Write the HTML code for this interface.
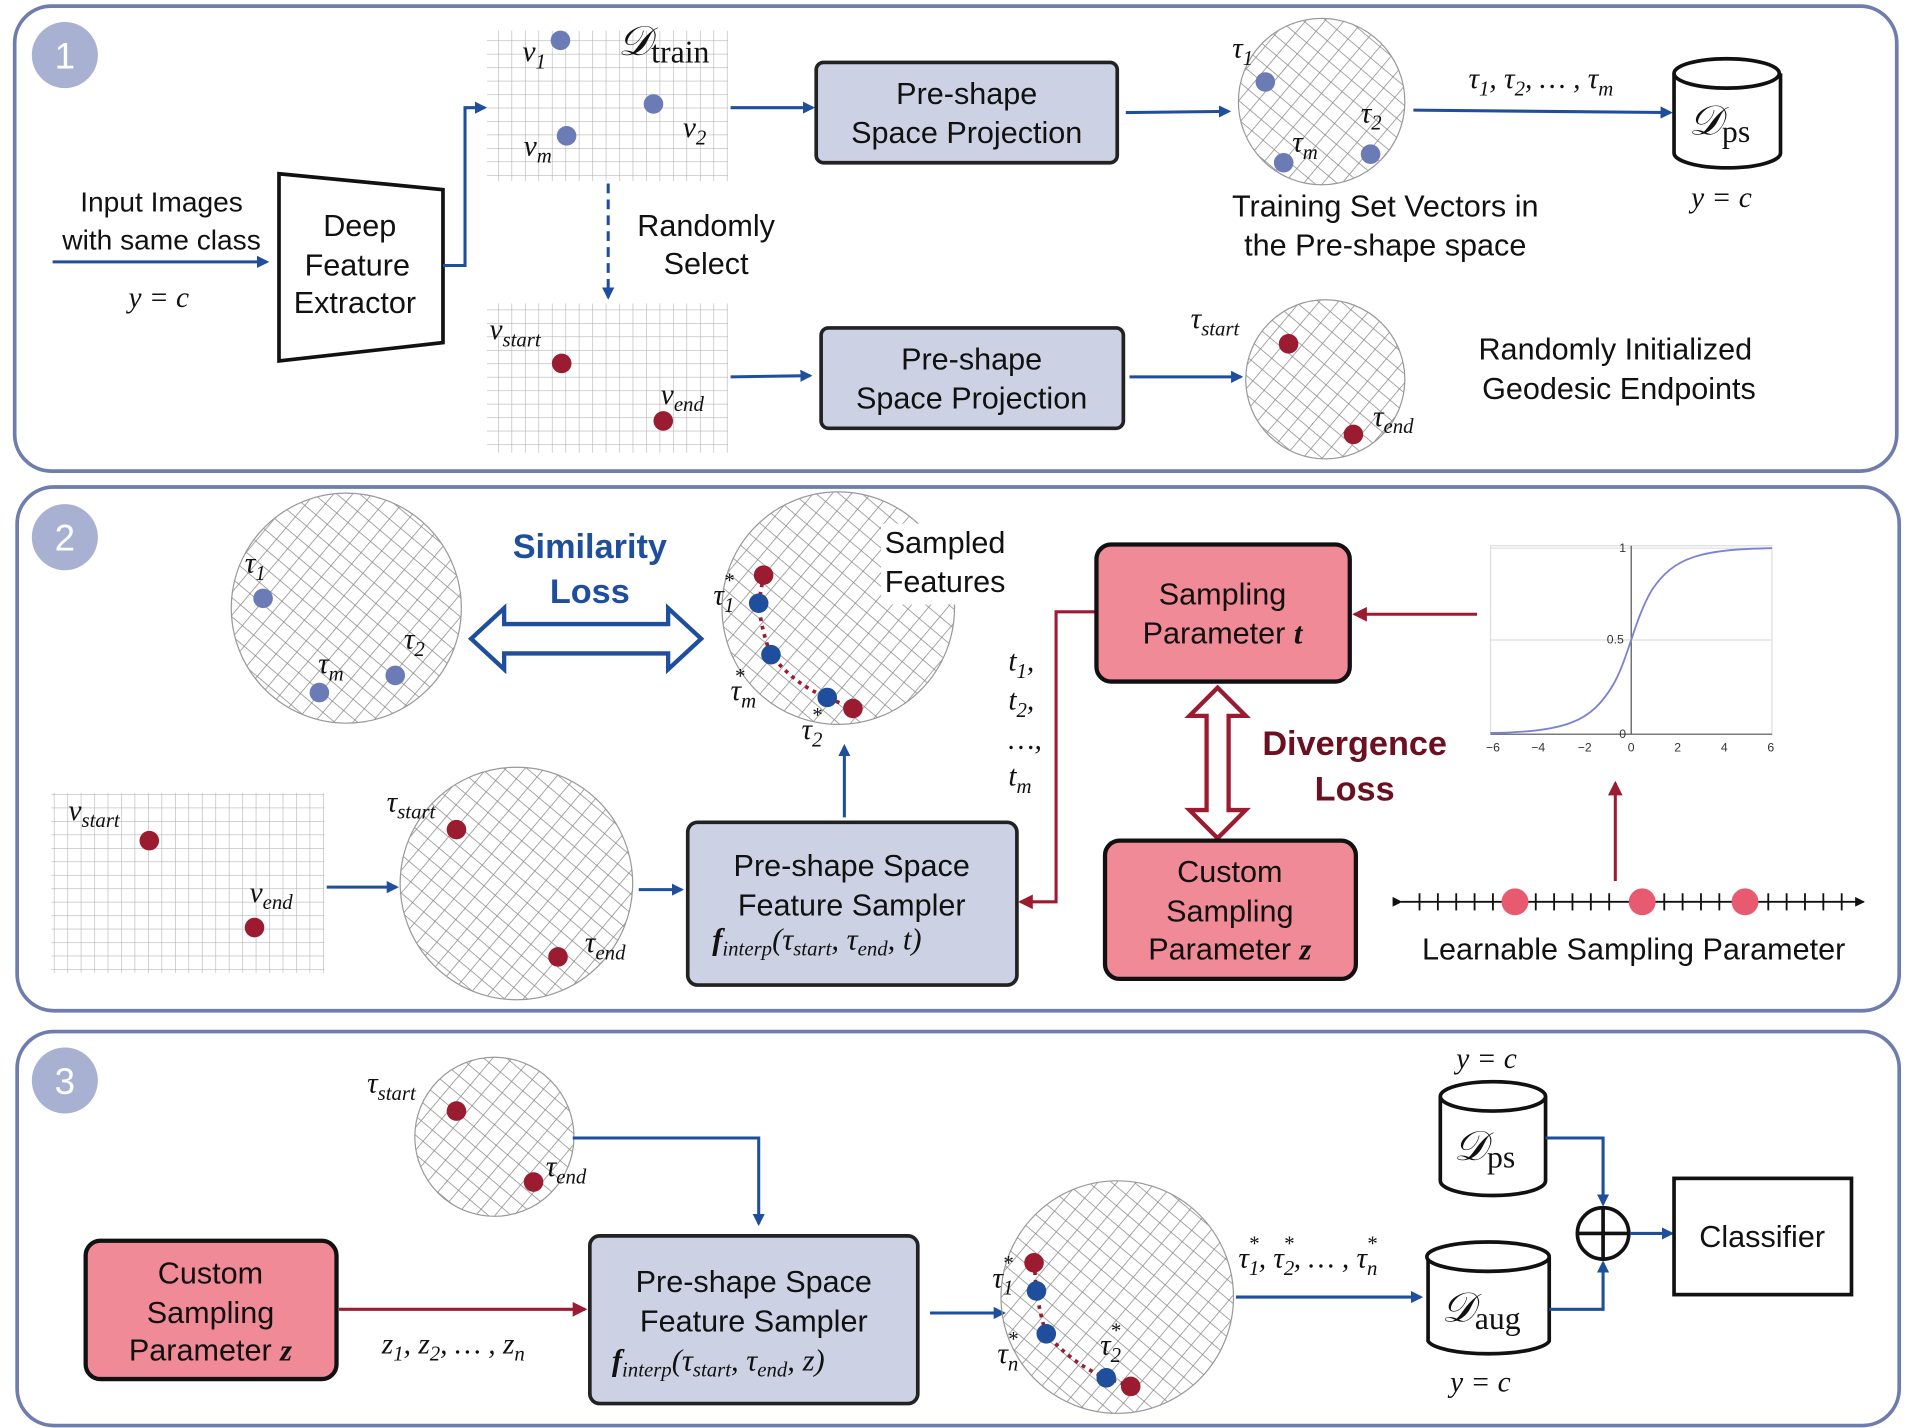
<!DOCTYPE html>
<html><head><meta charset="utf-8"><style>
html,body{margin:0;padding:0;background:#fff;}
svg{display:block}
.t{font-family:"Liberation Sans",sans-serif;font-size:25px;fill:#111;text-anchor:middle}
.m{font-family:"Liberation Serif",serif;font-style:italic;font-size:24px;fill:#111}
.s{font-size:17px}
.b{stroke:#1f4e9c;stroke-width:2.5;fill:none}
.r{stroke:#9b1b30;stroke-width:2.5;fill:none}
</style></head><body>
<svg width="1909" height="1428" viewBox="0 0 1560 1167" preserveAspectRatio="none" xmlns="http://www.w3.org/2000/svg">
<defs>
<pattern id="h" width="12" height="12" patternUnits="userSpaceOnUse" patternTransform="rotate(40)">
<line x1="0" y1="0" x2="0" y2="12" stroke="#888" stroke-width="1.2"/>
<line x1="0" y1="0" x2="12" y2="0" stroke="#888" stroke-width="1.2"/>
</pattern>
<pattern id="g" width="11" height="11" patternUnits="userSpaceOnUse">
<line x1="0" y1="0" x2="0" y2="11" stroke="#b5b5b5" stroke-width="1"/>
<line x1="0" y1="0" x2="11" y2="0" stroke="#b5b5b5" stroke-width="1"/>
</pattern>
<marker id="ab" markerWidth="10" markerHeight="10" refX="8" refY="5" orient="auto" markerUnits="userSpaceOnUse"><path d="M0,0 L10,5 L0,10 z" fill="#1f4e9c"/></marker>
<marker id="ar" markerWidth="12" markerHeight="12" refX="10" refY="6" orient="auto" markerUnits="userSpaceOnUse"><path d="M0,0 L12,6 L0,12 z" fill="#9b1b30"/></marker>
<marker id="ak" markerWidth="8" markerHeight="8" refX="7" refY="4" orient="auto" markerUnits="userSpaceOnUse"><path d="M0,0 L8,4 L0,8 z" fill="#111"/></marker>
</defs>

<rect x="12" y="5" width="1538" height="380" rx="30" fill="none" stroke="#6e7cae" stroke-width="3"/>
<rect x="14" y="398" width="1538" height="428" rx="30" fill="none" stroke="#6e7cae" stroke-width="3"/>
<rect x="14" y="843" width="1538" height="322" rx="30" fill="none" stroke="#6e7cae" stroke-width="3"/>
<circle cx="53" cy="45" r="27" fill="#a9b1d3"/><text x="53" y="56" class="t" style="fill:#fff;font-size:30px">1</text>
<circle cx="53" cy="439" r="27" fill="#a9b1d3"/><text x="53" y="450" class="t" style="fill:#fff;font-size:30px">2</text>
<circle cx="53" cy="883" r="27" fill="#a9b1d3"/><text x="53" y="894" class="t" style="fill:#fff;font-size:30px">3</text>

<text x="132" y="173" class="t" style="font-size:23px">Input Images</text>
<text x="132" y="204" class="t" style="font-size:23px">with same class</text>
<line x1="43" y1="214" x2="218" y2="214" class="b" marker-end="url(#ab)"/>
<text x="105" y="251" class="m">y = c</text>
<polygon points="228,142 362,155 362,280 228,295" fill="#fff" stroke="#111" stroke-width="3"/>
<text x="294" y="193" class="t">Deep</text><text x="292" y="225" class="t">Feature</text><text x="290" y="256" class="t">Extractor</text>
<polyline points="362,217 380,217 380,88 396,88" class="b" marker-end="url(#ab)"/>
<rect x="398" y="25" width="197" height="123" fill="url(#g)"/>
<circle cx="458" cy="33" r="8" fill="#6b7bb5"/><circle cx="534" cy="85" r="8" fill="#6b7bb5"/><circle cx="463" cy="111" r="8" fill="#6b7bb5"/>
<text x="427" y="50" class="m">v<tspan class="s" dy="6">1</tspan></text>
<text x="558" y="112" class="m">v<tspan class="s" dy="6">2</tspan></text>
<text x="428" y="127" class="m">v<tspan class="s" dy="6">m</tspan></text>
<text x="505" y="45" class="m" style="font-size:34px">𝒟<tspan style="font-style:normal;font-size:26px" dy="6">train</tspan></text>
<line x1="597" y1="88" x2="664" y2="88" class="b" marker-end="url(#ab)"/>
<rect x="667" y="51" width="246" height="82" rx="6" fill="#ccd1e4" stroke="#222" stroke-width="3"/>
<text x="790" y="85" class="t">Pre-shape</text><text x="790" y="117" class="t">Space Projection</text>
<line x1="920" y1="92" x2="1004" y2="91" class="b" marker-end="url(#ab)"/>
<circle cx="1080" cy="83" r="68" fill="url(#h)" stroke="#999" stroke-width="1"/>
<circle cx="1034" cy="67" r="8" fill="#6b7bb5"/><circle cx="1120" cy="126" r="8" fill="#6b7bb5"/><circle cx="1049" cy="133" r="8" fill="#6b7bb5"/>
<text x="1007" y="47" class="m">τ<tspan class="s" dy="6">1</tspan></text>
<text x="1112" y="100" class="m">τ<tspan class="s" dy="6">2</tspan></text>
<text x="1056" y="124" class="m">τ<tspan class="s" dy="6">m</tspan></text>
<text x="1132" y="177" class="t">Training Set Vectors in</text><text x="1132" y="209" class="t">the Pre-shape space</text>
<line x1="1155" y1="90" x2="1365" y2="92" class="b" marker-end="url(#ab)"/>
<text x="1200" y="72" class="m">τ<tspan class="s" dy="6">1</tspan><tspan dy="-6">, τ</tspan><tspan class="s" dy="6">2</tspan><tspan dy="-6">, … , τ</tspan><tspan class="s" dy="6">m</tspan></text>
<g stroke="#111" stroke-width="3" fill="#fff">
<path d="M1368,60 L1368,125 A43,12 0 0 0 1455,125 L1455,60"/>
<ellipse cx="1411" cy="60" rx="43" ry="12"/></g>
<text x="1380" y="110" class="m" style="font-size:34px">𝒟<tspan style="font-style:normal;font-size:26px" dy="6">ps</tspan></text>
<text x="1382" y="169" class="m">y = c</text>
<line x1="497" y1="150" x2="497" y2="243" class="b" stroke-dasharray="8,5" marker-end="url(#ab)"/>
<text x="577" y="193" class="t">Randomly</text><text x="577" y="224" class="t">Select</text>
<rect x="398" y="248" width="197" height="122" fill="url(#g)"/>
<circle cx="459" cy="297" r="8" fill="#9b1b30"/><circle cx="542" cy="344" r="8" fill="#9b1b30"/>
<text x="400" y="277" class="m">v<tspan class="s" dy="6">start</tspan></text>
<text x="540" y="330" class="m">v<tspan class="s" dy="6">end</tspan></text>
<line x1="597" y1="308" x2="662" y2="307" class="b" marker-end="url(#ab)"/>
<rect x="671" y="268" width="247" height="82" rx="6" fill="#ccd1e4" stroke="#222" stroke-width="3"/>
<text x="794" y="302" class="t">Pre-shape</text><text x="794" y="334" class="t">Space Projection</text>
<line x1="923" y1="308" x2="1014" y2="308" class="b" marker-end="url(#ab)"/>
<circle cx="1083" cy="310" r="65" fill="url(#h)" stroke="#999" stroke-width="1"/>
<circle cx="1053" cy="281" r="8" fill="#9b1b30"/><circle cx="1106" cy="355" r="8" fill="#9b1b30"/>
<text x="973" y="268" class="m">τ<tspan class="s" dy="6">start</tspan></text>
<text x="1122" y="348" class="m">τ<tspan class="s" dy="6">end</tspan></text>
<text x="1320" y="294" class="t">Randomly Initialized</text><text x="1323" y="326" class="t">Geodesic Endpoints</text>

<circle cx="283" cy="497" r="94" fill="url(#h)" stroke="#999"/>
<circle cx="215" cy="489" r="8" fill="#6b7bb5"/><circle cx="323" cy="552" r="8" fill="#6b7bb5"/><circle cx="261" cy="566" r="8" fill="#6b7bb5"/>
<text x="200" y="468" class="m">τ<tspan class="s" dy="6">1</tspan></text>
<text x="330" y="530" class="m">τ<tspan class="s" dy="6">2</tspan></text>
<text x="260" y="550" class="m">τ<tspan class="s" dy="6">m</tspan></text>
<text x="482" y="456" class="t" style="font-weight:bold;font-size:28px;fill:#1f4e9c">Similarity</text>
<text x="482" y="493" class="t" style="font-weight:bold;font-size:28px;fill:#1f4e9c">Loss</text>
<polygon points="385,522 412,497 412,510 546,510 546,497 573,522 546,547 546,534 412,534 412,547" fill="#fff" stroke="#1f4e9c" stroke-width="3.5"/>
<circle cx="685" cy="497" r="95" fill="url(#h)" stroke="#999"/>
<rect x="720" y="428" width="110" height="66" fill="#fff"/>
<path d="M624,470 L620,493 Q622,515 630,535 Q650,560 676,570 L697,579" fill="none" stroke="#9b1b30" stroke-width="3" stroke-dasharray="3,4"/>
<circle cx="624" cy="470" r="8" fill="#9b1b30"/><circle cx="620" cy="493" r="8" fill="#1f4e9c"/><circle cx="630" cy="535" r="8" fill="#1f4e9c"/><circle cx="676" cy="570" r="8" fill="#1f4e9c"/><circle cx="697" cy="579" r="8" fill="#9b1b30"/>
<text x="583" y="494" class="m">τ<tspan class="s" dy="6">1</tspan><tspan class="s" dx="-9" dy="-20">*</tspan></text>
<text x="597" y="572" class="m">τ<tspan class="s" dy="6">m</tspan><tspan class="s" dx="-18" dy="-20">*</tspan></text>
<text x="655" y="604" class="m">τ<tspan class="s" dy="6">2</tspan><tspan class="s" dx="-9" dy="-20">*</tspan></text>
<text x="723" y="452" class="t" style="text-anchor:start">Sampled</text><text x="723" y="484" class="t" style="text-anchor:start">Features</text>
<line x1="690" y1="668" x2="690" y2="610" class="b" marker-end="url(#ab)"/>
<rect x="562" y="672" width="269" height="133" rx="8" fill="#ccd1e4" stroke="#222" stroke-width="3"/>
<text x="696" y="716" class="t">Pre-shape Space</text><text x="696" y="748" class="t">Feature Sampler</text>
<text x="582" y="776" class="m" style="font-size:25px"><tspan style="font-weight:bold">f</tspan><tspan class="s" dy="5">interp</tspan><tspan dy="-5">(τ</tspan><tspan class="s" dy="5">start</tspan><tspan dy="-5">, τ</tspan><tspan class="s" dy="5">end</tspan><tspan dy="-5">, t)</tspan></text>
<rect x="42" y="648" width="223" height="147" fill="url(#g)"/>
<circle cx="122" cy="687" r="8" fill="#9b1b30"/><circle cx="208" cy="758" r="8" fill="#9b1b30"/>
<text x="56" y="670" class="m">v<tspan class="s" dy="6">start</tspan></text>
<text x="204" y="737" class="m">v<tspan class="s" dy="6">end</tspan></text>
<line x1="267" y1="725" x2="324" y2="725" class="b" marker-end="url(#ab)"/>
<circle cx="422" cy="722" r="95" fill="url(#h)" stroke="#999"/>
<circle cx="373" cy="678" r="8" fill="#9b1b30"/><circle cx="456" cy="782" r="8" fill="#9b1b30"/>
<text x="316" y="663" class="m">τ<tspan class="s" dy="6">start</tspan></text>
<text x="478" y="778" class="m">τ<tspan class="s" dy="6">end</tspan></text>
<line x1="522" y1="727" x2="557" y2="727" class="b" marker-end="url(#ab)"/>
<text x="824" y="548" class="m">t<tspan class="s" dy="6">1</tspan><tspan dy="-6">,</tspan></text>
<text x="824" y="580" class="m">t<tspan class="s" dy="6">2</tspan><tspan dy="-6">,</tspan></text>
<text x="824" y="612" class="m">…,</text>
<text x="824" y="642" class="m">t<tspan class="s" dy="6">m</tspan></text>
<polyline points="895,500 863,500 863,737 834,737" class="r" marker-end="url(#ar)"/>
<rect x="896" y="445" width="207" height="112" rx="12" fill="#f08a96" stroke="#111" stroke-width="3.5"/>
<text x="999" y="494" class="t">Sampling</text>
<text x="999" y="526" class="t">Parameter <tspan style="font-family:'Liberation Serif',serif;font-style:italic;font-weight:bold">t</tspan></text>
<line x1="1207" y1="502" x2="1107" y2="502" class="r" marker-end="url(#ar)"/>
<polygon points="995,562 1018,585 1004,585 1004,662 1018,662 995,685 972,662 986,662 986,585 972,585" fill="#fff" stroke="#9b1b30" stroke-width="3.5"/>
<text x="1107" y="617" class="t" style="font-weight:bold;font-size:28px;fill:#6b1020">Divergence</text>
<text x="1107" y="654" class="t" style="font-weight:bold;font-size:28px;fill:#6b1020">Loss</text>
<rect x="903" y="687" width="205" height="113" rx="12" fill="#f08a96" stroke="#111" stroke-width="3.5"/>
<text x="1005" y="721" class="t">Custom</text><text x="1005" y="753" class="t">Sampling</text>
<text x="1005" y="784" class="t">Parameter <tspan style="font-family:'Liberation Serif',serif;font-style:italic;font-weight:bold">z</tspan></text>
<g stroke="#ddd" stroke-width="1" fill="none">
<rect x="1218" y="446" width="230" height="154"/>
<line x1="1218" y1="523" x2="1448" y2="523"/>
<line x1="1218" y1="448" x2="1448" y2="448"/>
</g>
<line x1="1218" y1="600" x2="1448" y2="600" stroke="#555" stroke-width="1"/>
<line x1="1333" y1="446" x2="1333" y2="600" stroke="#555" stroke-width="1"/>
<path d="M1218,599 C1280,598 1300,590 1318,560 C1330,540 1336,505 1350,482 C1368,455 1390,449 1448,448" fill="none" stroke="#7b82d6" stroke-width="1.5"/>
<g font-family="Liberation Sans,sans-serif" font-size="10" fill="#333" text-anchor="middle">
<text x="1220" y="614">−6</text><text x="1257" y="614">−4</text><text x="1295" y="614">−2</text><text x="1333" y="614">0</text><text x="1371" y="614">2</text><text x="1409" y="614">4</text><text x="1447" y="614">6</text>
<text x="1326" y="451">1</text><text x="1320" y="526">0.5</text><text x="1326" y="603">0</text></g>
<line x1="1320" y1="720" x2="1320" y2="640" class="r" marker-end="url(#ar)"/>
<line x1="1145" y1="737" x2="1523" y2="737" stroke="#111" stroke-width="1.5" marker-start="url(#ak)" marker-end="url(#ak)"/>
<g stroke="#111" stroke-width="1.5">
<line x1="1160" y1="730" x2="1160" y2="744"/><line x1="1175" y1="730" x2="1175" y2="744"/><line x1="1190" y1="730" x2="1190" y2="744"/><line x1="1205" y1="730" x2="1205" y2="744"/><line x1="1220" y1="730" x2="1220" y2="744"/><line x1="1255" y1="730" x2="1255" y2="744"/><line x1="1270" y1="730" x2="1270" y2="744"/><line x1="1285" y1="730" x2="1285" y2="744"/><line x1="1300" y1="730" x2="1300" y2="744"/><line x1="1315" y1="730" x2="1315" y2="744"/><line x1="1360" y1="730" x2="1360" y2="744"/><line x1="1375" y1="730" x2="1375" y2="744"/><line x1="1390" y1="730" x2="1390" y2="744"/><line x1="1405" y1="730" x2="1405" y2="744"/><line x1="1445" y1="730" x2="1445" y2="744"/><line x1="1460" y1="730" x2="1460" y2="744"/><line x1="1475" y1="730" x2="1475" y2="744"/><line x1="1490" y1="730" x2="1490" y2="744"/><line x1="1505" y1="730" x2="1505" y2="744"/></g>
<circle cx="1238" cy="737" r="11" fill="#e85a70"/><circle cx="1342" cy="737" r="11" fill="#e85a70"/><circle cx="1426" cy="737" r="11" fill="#e85a70"/>
<text x="1335" y="784" class="t">Learnable Sampling Parameter</text>

<circle cx="404" cy="929" r="65" fill="url(#h)" stroke="#999"/>
<circle cx="373" cy="908" r="8" fill="#9b1b30"/><circle cx="436" cy="966" r="8" fill="#9b1b30"/>
<text x="300" y="893" class="m">τ<tspan class="s" dy="6">start</tspan></text>
<text x="446" y="961" class="m">τ<tspan class="s" dy="6">end</tspan></text>
<polyline points="468,930 620,930 620,1000" class="b" marker-end="url(#ab)"/>
<rect x="70" y="1014" width="205" height="113" rx="12" fill="#f08a96" stroke="#111" stroke-width="3.5"/>
<text x="172" y="1049" class="t">Custom</text><text x="172" y="1081" class="t">Sampling</text>
<text x="172" y="1112" class="t">Parameter <tspan style="font-family:'Liberation Serif',serif;font-style:italic;font-weight:bold">z</tspan></text>
<line x1="277" y1="1070" x2="478" y2="1070" class="r" marker-end="url(#ar)"/>
<text x="312" y="1106" class="m">z<tspan class="s" dy="6">1</tspan><tspan dy="-6">, z</tspan><tspan class="s" dy="6">2</tspan><tspan dy="-6">, … , z</tspan><tspan class="s" dy="6">n</tspan></text>
<rect x="482" y="1010" width="268" height="137" rx="8" fill="#ccd1e4" stroke="#222" stroke-width="3"/>
<text x="616" y="1056" class="t">Pre-shape Space</text><text x="616" y="1088" class="t">Feature Sampler</text>
<text x="500" y="1120" class="m" style="font-size:25px"><tspan style="font-weight:bold">f</tspan><tspan class="s" dy="5">interp</tspan><tspan dy="-5">(τ</tspan><tspan class="s" dy="5">start</tspan><tspan dy="-5">, τ</tspan><tspan class="s" dy="5">end</tspan><tspan dy="-5">, z)</tspan></text>
<line x1="760" y1="1073" x2="820" y2="1073" class="b" marker-end="url(#ab)"/>
<circle cx="913" cy="1060" r="95" fill="url(#h)" stroke="#999"/>
<path d="M845,1032 L847,1055 Q850,1075 855,1090 Q878,1116 904,1126 L924,1133" fill="none" stroke="#9b1b30" stroke-width="3" stroke-dasharray="3,4"/>
<circle cx="845" cy="1032" r="8" fill="#9b1b30"/><circle cx="847" cy="1055" r="8" fill="#1f4e9c"/><circle cx="855" cy="1090" r="8" fill="#1f4e9c"/><circle cx="904" cy="1126" r="8" fill="#1f4e9c"/><circle cx="924" cy="1133" r="8" fill="#9b1b30"/>
<text x="811" y="1052" class="m">τ<tspan class="s" dy="6">1</tspan><tspan class="s" dx="-9" dy="-20">*</tspan></text>
<text x="815" y="1114" class="m">τ<tspan class="s" dy="6">n</tspan><tspan class="s" dx="-9" dy="-20">*</tspan></text>
<text x="899" y="1107" class="m">τ<tspan class="s" dy="6">2</tspan><tspan class="s" dx="-9" dy="-20">*</tspan></text>
<line x1="1010" y1="1060" x2="1161" y2="1060" class="b" marker-end="url(#ab)"/>
<text x="1012" y="1036" class="m">τ<tspan class="s" dy="6">1</tspan><tspan class="s" dx="-9" dy="-20">*</tspan><tspan dy="14">, τ</tspan><tspan class="s" dy="6">2</tspan><tspan class="s" dx="-9" dy="-20">*</tspan><tspan dy="14">, … , τ</tspan><tspan class="s" dy="6">n</tspan><tspan class="s" dx="-9" dy="-20">*</tspan></text>
<g stroke="#111" stroke-width="3" fill="#fff">
<path d="M1177,896 L1177,965 A43,12 0 0 0 1263,965 L1263,896"/>
<ellipse cx="1220" cy="896" rx="43" ry="12"/>
<path d="M1167,1027 L1167,1096 A50,12 0 0 0 1266,1096 L1266,1027"/>
<ellipse cx="1216" cy="1027" rx="50" ry="12"/></g>
<text x="1188" y="948" class="m" style="font-size:34px">𝒟<tspan style="font-style:normal;font-size:26px" dy="6">ps</tspan></text>
<text x="1178" y="1080" class="m" style="font-size:34px">𝒟<tspan style="font-style:normal;font-size:26px" dy="6">aug</tspan></text>
<text x="1190" y="873" class="m">y = c</text>
<text x="1185" y="1137" class="m">y = c</text>
<polyline points="1263,930 1310,930 1310,984" class="b" marker-end="url(#ab)"/>
<polyline points="1266,1070 1310,1070 1310,1032" class="b" marker-end="url(#ab)"/>
<circle cx="1310" cy="1008" r="21" fill="#fff" stroke="#111" stroke-width="3"/>
<line x1="1289" y1="1008" x2="1331" y2="1008" stroke="#111" stroke-width="3"/><line x1="1310" y1="987" x2="1310" y2="1029" stroke="#111" stroke-width="3"/>
<line x1="1332" y1="1008" x2="1366" y2="1008" class="b" marker-end="url(#ab)"/>
<rect x="1368" y="963" width="145" height="95" fill="#fff" stroke="#111" stroke-width="3"/>
<text x="1440" y="1019" class="t">Classifier</text>
</svg>
</body></html>
